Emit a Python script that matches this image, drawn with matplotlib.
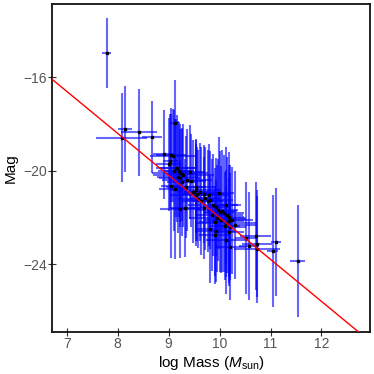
import numpy as np
import matplotlib
matplotlib.use("Agg")
import matplotlib.pyplot as plt

plt.rcParams['font.family'] = ['Liberation Sans', 'DejaVu Sans']
plt.rcParams['mathtext.fontset'] = 'custom'
plt.rcParams['mathtext.it'] = 'Liberation Sans:italic'
plt.rcParams['mathtext.rm'] = 'Liberation Sans'

log_mass = [7.78, 8.08, 8.15, 8.42, 8.67, 9.13, 8.90, 9.05, 9.03, 9.00,
            9.15, 9.20, 9.23, 9.26, 9.29, 9.41, 9.22, 9.36, 9.44, 9.05,
            9.12, 9.53, 9.61, 9.53, 9.98, 9.69, 9.55, 9.72, 9.81, 9.77,
            10.12, 9.87, 9.92, 9.96, 10.00, 9.23, 9.32, 10.08, 10.18, 10.21,
            10.31, 9.95, 10.12, 9.82, 9.92, 9.90, 10.71, 10.05, 10.25, 10.18,
            10.10, 10.21, 10.18, 10.13, 10.21, 10.51, 10.73, 10.58, 10.74, 11.10,
            11.04, 11.53, 9.08, 9.17, 9.79, 9.53, 9.10, 9.18, 9.27, 9.34,
            9.47, 9.64, 9.70, 9.86, 10.02, 9.58, 9.90, 10.15]
mag = [-14.97, -18.59, -18.20, -18.36, -18.55, -17.95, -19.30, -19.33, -19.59, -19.72,
       -19.90, -20.00, -20.10, -20.15, -20.20, -20.05, -20.33, -20.40, -20.43, -20.65,
       -20.80, -20.69, -20.93, -20.83, -20.97, -21.00, -21.00, -21.19, -21.26, -21.30,
       -21.47, -21.47, -21.55, -21.69, -21.76, -21.66, -21.59, -21.83, -22.00, -22.07,
       -22.33, -22.04, -22.26, -22.51, -22.58, -22.76, -22.80, -21.72, -22.12, -22.15,
       -22.37, -22.40, -22.62, -22.97, -23.26, -22.90, -23.12, -23.23, -23.37, -23.05,
       -23.44, -23.87, -19.36, -19.90, -21.04, -21.04, -20.00, -20.25, -20.50, -20.70,
       -20.90, -21.30, -21.60, -21.90, -22.10, -21.20, -22.20, -21.90]
mass_err = [0.09, 0.50, 0.14, 0.35, 0.20, 0.10, 0.20, 0.30, 0.15, 0.25,
            0.40, 0.30, 0.55, 0.30, 0.60, 0.30, 0.40, 0.50, 0.30, 0.20,
            0.30, 0.40, 0.30, 0.50, 0.30, 0.40, 0.30, 0.30, 0.45, 0.30,
            0.30, 0.50, 0.30, 0.40, 0.30, 0.40, 0.30, 0.40, 0.30, 0.30,
            0.40, 0.55, 0.60, 0.30, 0.40, 0.30, 0.30, 0.30, 0.40, 0.30,
            0.30, 0.30, 0.30, 0.40, 0.30, 0.20, 0.30, 0.20, 0.45, 0.10,
            0.10, 0.15, 0.45, 0.35, 0.40, 0.50, 0.30, 0.40, 0.30, 0.40,
            0.30, 0.40, 0.30, 0.35, 0.30, 0.40, 0.30, 0.30]
mag_err = [1.50, 1.90, 1.85, 1.85, 1.55, 1.85, 1.90, 2.00, 2.00, 2.00,
           2.10, 2.00, 2.10, 2.00, 2.20, 2.00, 2.10, 2.20, 2.00, 3.10,
           3.00, 2.00, 2.10, 2.20, 2.40, 2.10, 2.00, 2.20, 2.10, 2.20,
           2.50, 2.20, 2.10, 2.20, 2.60, 2.10, 2.10, 2.50, 2.80, 2.30,
           2.30, 2.30, 2.30, 2.30, 2.20, 2.10, 2.30, 2.60, 2.30, 2.40,
           2.30, 2.30, 2.30, 2.30, 2.30, 2.40, 2.30, 2.30, 2.30, 2.30,
           2.40, 2.40, 2.00, 2.30, 2.20, 2.20, 2.60, 2.40, 2.30, 2.20,
           2.20, 2.30, 2.20, 2.40, 2.30, 2.10, 2.30, 2.50]

fit_intercept = -4.0
fit_slope = -1.8

xticks = [7, 8, 9, 10, 11, 12]
yticks = [-16, -20, -24]

fig = plt.figure(figsize=(3.74, 3.74), dpi=100)
ax = fig.add_axes([0.14, 0.113, 0.849, 0.876])

ax.errorbar(log_mass, mag, xerr=mass_err, yerr=mag_err, fmt='none',
            ecolor='blue', elinewidth=1.5, alpha=0.6, capsize=0, zorder=2)
ax.plot(log_mass, mag, 's', color='black', markersize=1.7, zorder=3)

xlim = (6.717, 12.95)
ylim = (-26.9, -12.86)
xx = np.array(xlim)
ax.plot(xx, fit_intercept + fit_slope * xx, color='red', lw=1.0, zorder=4)

ax.set_xlim(*xlim)
ax.set_ylim(*ylim)
ax.set_xticks(xticks)
ax.set_yticks(yticks)
ax.set_yticklabels(['\u221216', '\u221220', '\u221224'])
ax.tick_params(direction='inout', length=6, width=0.8, colors='#333333',
               labelcolor='#555555', labelsize=10, pad=1)
for s in ax.spines.values():
    s.set_linewidth(1.3)
    s.set_color('#111111')

ax.set_xlabel(r'log Mass ($M_{\rm sun}$)', fontsize=11, labelpad=2)
ax.set_ylabel('Mag', fontsize=11, labelpad=4)

fig.savefig('out.png', dpi=100)
